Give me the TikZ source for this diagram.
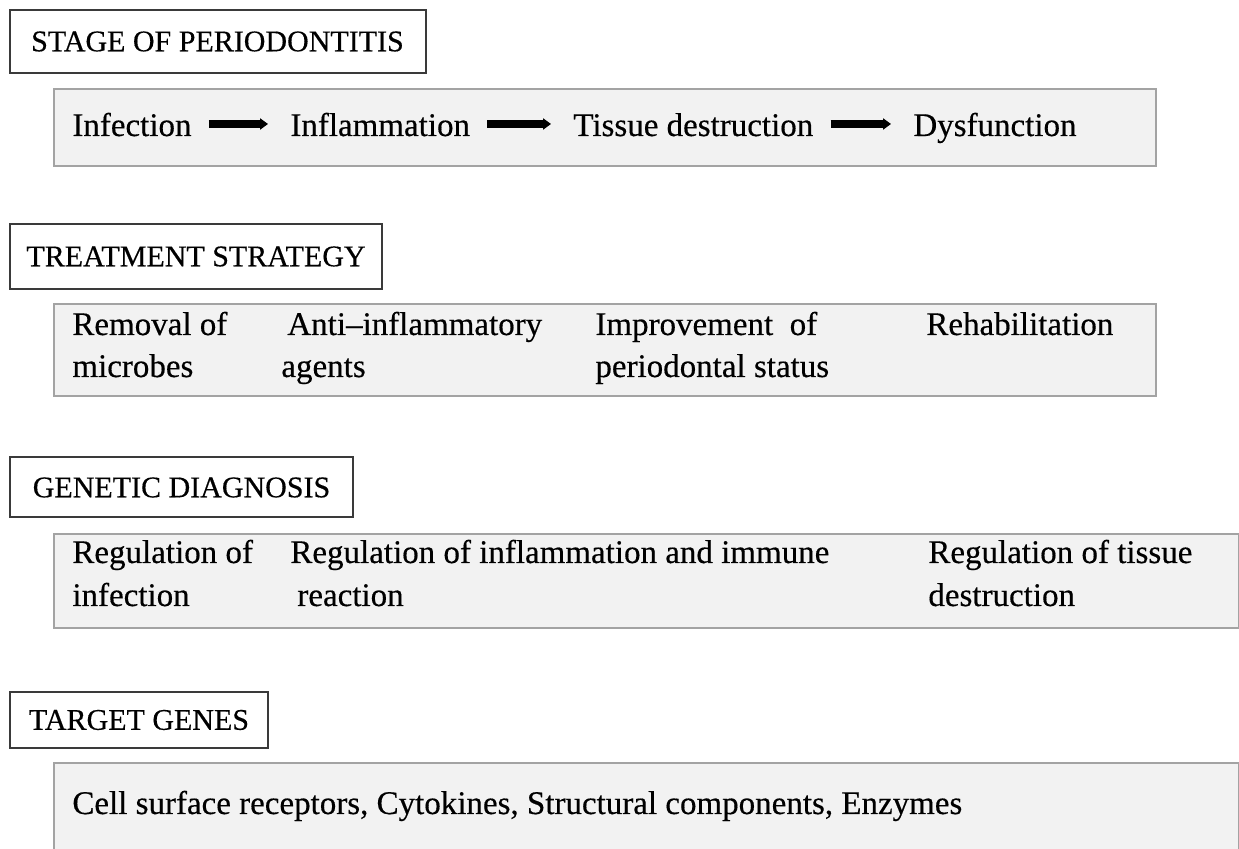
\documentclass[tikz,border=0pt]{standalone}
\usepackage{fontspec}
\setmainfont{Liberation Serif}[FakeBold=0.4]
\usetikzlibrary{arrows.meta}
\definecolor{panelfill}{HTML}{F2F2F2}
\definecolor{panelline}{HTML}{A3A3A3}
\definecolor{titleline}{HTML}{3A3A3A}
\begin{document}
\begin{tikzpicture}[x=0.5pt,y=-0.5pt,
  titlebox/.style={draw=titleline,line width=1pt,fill=white,inner sep=0pt,
    font=\fontsize{15}{18}\selectfont,minimum height=30pt},
  panel/.style={draw=panelline,line width=0.8pt,fill=panelfill,anchor=north west,inner sep=0pt},
  bodytext/.style={anchor=base west,inner sep=0pt,text height=14.5pt,text depth=2.5pt,
    font=\fontsize{16.5}{20}\selectfont},
  flowarrow/.style={-{Triangle[length=4pt,width=5.5pt]},line width=3.6pt,black,
    shorten <=8.5pt,shorten >=11pt},
  flowshadow/.style={flowarrow,draw=black!35,opacity=0.5}]
\useasboundingbox (0,0) rectangle (1239,849);

% ---------- Stage of periodontitis ----------
\node[titlebox,minimum width=208pt,minimum height=31.5pt] (t1) at (217.5,41.5) {STAGE OF PERIODONTITIS};
\node[panel,minimum width=551pt,minimum height=38.5pt] (p1) at (53,88) {};
\node[bodytext] (inf) at (72,136) {Infection};
\node[bodytext] (infl) at (290,136) {Inflammation};
\node[bodytext] (tis) at (573,136) {Tissue destruction};
\node[bodytext] (dys) at (913,136) {Dysfunction};
\begin{scope}[shift={(2,3)}]
\draw[flowshadow] (inf.east) -- (infl.west);
\draw[flowshadow] (infl.east) -- (tis.west);
\draw[flowshadow] (tis.east) -- (dys.west);
\end{scope}
\draw[flowarrow] (inf.east) -- (infl.west);
\draw[flowarrow] (infl.east) -- (tis.west);
\draw[flowarrow] (tis.east) -- (dys.west);

% ---------- Treatment strategy ----------
\node[titlebox,minimum width=186pt,minimum height=32.5pt] (t2) at (196,256.5) {TREATMENT STRATEGY};
\node[panel,minimum width=551pt,minimum height=46pt] (p2) at (53,303) {};
\node[bodytext] (rem1) at (72,335) {Removal of};
\node[bodytext] (rem2) at (72,377) {microbes};
\node[bodytext] (anti1) at (287,335) {Anti–inflammatory};
\node[bodytext] (anti2) at (281,377) {agents};
\node[bodytext] (imp1) at (595,335) {Improvement\ \ of};
\node[bodytext] (imp2) at (595,377) {periodontal status};
\node[bodytext] (reh) at (926,335) {Rehabilitation};

% ---------- Genetic diagnosis ----------
\node[titlebox,minimum width=171.5pt] (t3) at (181.5,487.5) {GENETIC DIAGNOSIS};
\node[panel,minimum width=592.5pt,minimum height=47pt] (p3) at (53,533) {};
\node[bodytext] (gi1) at (72,563) {Regulation of};
\node[bodytext] (gi2) at (72,606) {infection};
\node[bodytext] (gr1) at (290,563) {Regulation of inflammation and immune};
\node[bodytext] (gr2) at (297,606) {reaction};
\node[bodytext] (gt1) at (928,563) {Regulation of tissue};
\node[bodytext] (gt2) at (928,606) {destruction};

% ---------- Target genes ----------
\node[titlebox,minimum width=129pt,minimum height=28pt] (t4) at (139,720) {TARGET GENES};
\node[panel,minimum width=592.5pt,minimum height=50pt] (p4) at (53,762) {};
\node[bodytext] (tg) at (72,814) {Cell surface receptors, Cytokines, Structural components, Enzymes};
\end{tikzpicture}
\end{document}
